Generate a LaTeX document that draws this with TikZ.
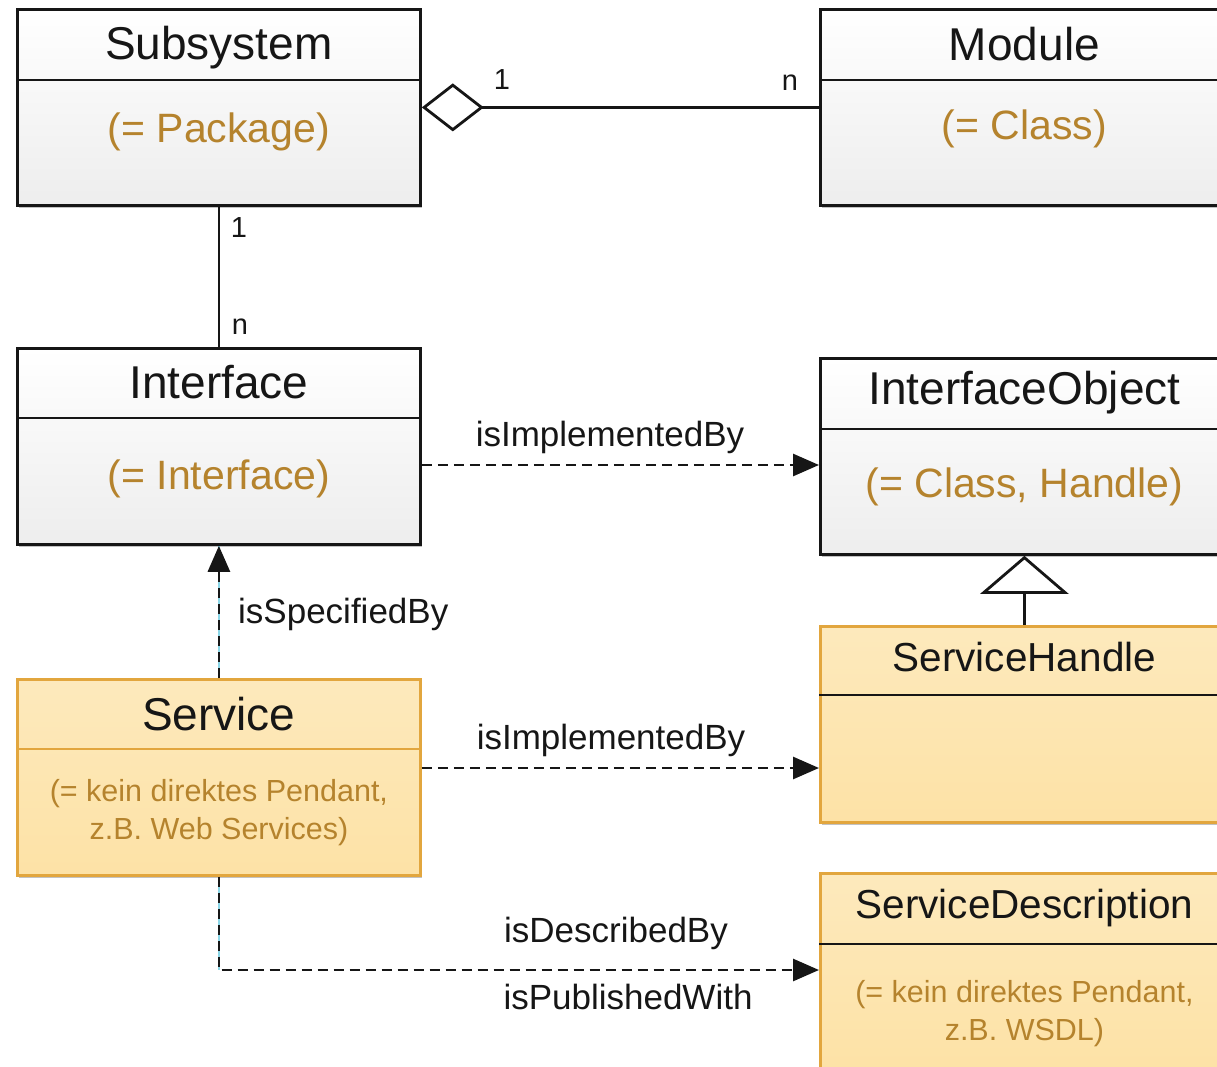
\documentclass[tikz,border=0pt]{standalone}
\usepackage{fontspec}
\setmainfont{Liberation Sans}
\usetikzlibrary{arrows.meta,shadows}

\definecolor{ink}{RGB}{22,22,22}
\definecolor{notecol}{RGB}{181,131,45}
\definecolor{svcfill}{RGB}{253,226,166}
\definecolor{svcdraw}{RGB}{226,166,62}
\definecolor{wirecyan}{RGB}{140,215,232}

\begin{document}
\begin{tikzpicture}[x=1pt,y=-1pt,
  boxshadow/.style={drop shadow={shadow xshift=2pt,shadow yshift=-3pt,opacity=0.4,fill=black!60}},
  classbox/.style={draw=ink, line width=2.8pt, top color=white, bottom color=black!7,
    minimum height=196pt, inner sep=0pt, anchor=north west, boxshadow},
  svcbox/.style={classbox, draw=svcdraw, top color=svcfill!75!white, bottom color=svcfill},
  leftw/.style={minimum width=403pt},
  rightw/.style={minimum width=408pt},
  divider/.style={draw=ink, line width=2.8pt},
  svcdivider/.style={draw=svcdraw, line width=2.8pt},
  classname/.style={font=\fontsize{46}{54}\selectfont, text=ink, inner sep=0pt},
  smallname/.style={font=\fontsize{40.5}{48}\selectfont, text=ink, inner sep=0pt},
  note/.style={font=\fontsize{41}{48}\selectfont, text=notecol, inner sep=0pt},
  smallnote/.style={font=\fontsize{30.5}{38}\selectfont, text=notecol, align=center, inner sep=0pt},
  edgelabel/.style={font=\fontsize{35}{40}\selectfont, text=ink, inner sep=0pt},
  mult/.style={font=\fontsize{29}{34}\selectfont, text=ink, inner sep=0pt},
  assoc/.style={draw=ink, line width=2.8pt},
  dep/.style={draw=ink, line width=2.8pt, dash pattern=on 10pt off 6pt,
    -{Triangle[length=26pt,width=22pt]}},
  cyanwire/.style={draw=wirecyan, line width=1.2pt},
]
\useasboundingbox (0,0) rectangle (1217,1067);

% class boxes
\node[classbox,leftw]  (sub)  at (16,8)   {};
\node[classbox,rightw] (mod)  at (819,8)  {};
\node[classbox,leftw]  (intf) at (16,347) {};
\node[classbox,rightw] (ifo)  at (819,357) {};
\node[svcbox,leftw]    (svc)  at (16,678) {};
\node[svcbox,rightw]   (sh)   at (819,625) {};
\node[svcbox,rightw]   (sd)   at (819,872) {};

% compartment lines
\draw[divider]    (sub.west |- 0,80)   -- (sub.east |- 0,80);
\draw[divider]    (mod.west |- 0,80)   -- (mod.east |- 0,80);
\draw[divider]    (intf.west |- 0,418) -- (intf.east |- 0,418);
\draw[divider]    (ifo.west |- 0,429)  -- (ifo.east |- 0,429);
\draw[svcdivider] (svc.west |- 0,749)  -- (svc.east |- 0,749);
\draw[divider]    (sh.west |- 0,695)   -- (sh.east |- 0,695);
\draw[divider]    (sd.west |- 0,944)   -- (sd.east |- 0,944);

% names and notes
\node[classname] (subT)  at (sub.north |- 0,48)   {Subsystem};
\node[note]      (subN)  at (sub.north |- 0,132)  {(= Package)};
\node[classname] (modT)  at (mod.north |- 0,44)   {Module};
\node[note]      (modN)  at (mod.north |- 0,129)  {(= Class)};
\node[classname] (intfT) at (intf.north |- 0,382) {Interface};
\node[note]      (intfN) at (intf.north |- 0,479) {(= Interface)};
\node[classname] (ifoT)  at (ifo.north |- 0,393)  {InterfaceObject};
\node[note]      (ifoN)  at (ifo.north |- 0,487)  {(= Class, Handle)};
\node[classname] (svcT)  at (svc.north |- 0,714)  {Service};
\node[smallnote] (svcN)  at (svc.north |- 0,813)  {(= kein direktes Pendant,\\z.B. Web Services)};
\node[smallname] (shT)   at (sh.north |- 0,657)   {ServiceHandle};
\node[smallname] (sdT)   at (sd.north |- 0,908)   {ServiceDescription};
\node[smallnote] (sdN)   at (sd.north |- 0,1014)  {(= kein direktes Pendant,\\z.B. WSDL)};

% aggregation Subsystem <>-- Module
\draw[assoc, {Diamond[open,fill=white,length=62pt,width=48pt]}-] (sub.east) -- (mod.west);
\node[mult] (m1) at (502,80) {1};
\node[mult] (m2) at (790,83) {n};

% association Subsystem -- Interface
\draw[assoc] (sub.south) -- (intf.north);
\node[mult] (m3) at (239,228) {1};
\node[mult] (m4) at (240,327) {n};

% Interface ..> InterfaceObject
\draw[dep] (intf.east |- 0,465) -- (ifo.west |- 0,465);
\node[edgelabel] (l1) at (610,437) {isImplementedBy};

% Service ..> Interface
\draw[cyanwire] (svc.north) -- (intf.south);
\draw[dep] (svc.north) -- (intf.south);
\node[edgelabel, anchor=west] (l2) at (238,614) {isSpecifiedBy};

% Service ..> ServiceHandle
\draw[dep] (svc.east |- 0,768) -- (sh.west |- 0,768);
\node[edgelabel] (l3) at (611,740) {isImplementedBy};

% Service ..> ServiceDescription
\coordinate (bend) at (svc.south |- 0,970);
\draw[cyanwire] (svc.south) -- (bend);
\draw[dep] (svc.south) -- (bend) -- (sd.west |- 0,970);
\node[edgelabel] (l4) at (616,933) {isDescribedBy};
\node[edgelabel] (l5) at (628,997) {isPublishedWith};

% generalization ServiceHandle --|> InterfaceObject
\draw[assoc, -{Triangle[open,fill=white,length=38pt,width=88pt]}] (sh.north) -- (ifo.south);
\end{tikzpicture}
\end{document}
